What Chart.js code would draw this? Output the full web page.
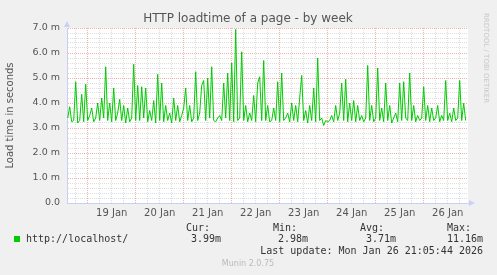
<!DOCTYPE html>
<html>
<head>
<meta charset="utf-8">
<script src="https://cdn.jsdelivr.net/npm/chart.js@4.4.1/dist/chart.umd.min.js"></script>
<style>
  html, body { margin: 0; padding: 0; background: #F0F0F0; }
  #wrap { width: 497px; height: 275px; position: relative; }
</style>
</head>
<body>
<div id="wrap"><canvas id="chart-week"></canvas></div>
<script>
// hourly samples, hours relative to 19 Jan 00:00, starting at -10
var startHour = -10;
var loadTime = [
  3.4, 3.85, 3.25, 3.3, 4.85, 3.2, 3.3, 4.35, 3.25, 4.75,
  3.3, 3.5, 3.8, 3.25, 3.4, 4.0, 3.3, 4.2, 3.4, 5.45,
  3.3, 4.0, 3.25, 4.6, 3.3, 3.6, 4.15, 3.3, 3.9, 3.2,
  3.8, 3.25, 3.4, 5.55, 3.3, 4.7, 3.3, 4.65, 3.4, 4.6,
  3.25, 3.7, 3.3, 4.1, 3.2, 5.15, 3.3, 4.8, 3.25, 3.9,
  3.3, 3.6, 3.2, 4.2, 3.3, 3.9, 3.25, 3.5, 3.8, 4.6,
  3.3, 3.9, 3.25, 3.4, 5.25, 3.3, 3.6, 4.7, 4.9, 3.3,
  5.0, 3.4, 5.45, 3.3, 3.25, 3.4, 3.5, 3.3, 4.8, 3.4,
  5.2, 3.3, 5.6, 3.25, 6.95, 3.3, 3.4, 6.05, 3.3, 3.9,
  3.25, 3.6, 3.3, 4.3, 3.25, 4.8, 5.05, 3.3, 5.7, 3.3,
  3.9, 3.25, 3.3, 3.8, 3.3, 4.85, 3.25, 5.2, 3.3, 3.4,
  3.6, 3.25, 4.0, 3.3, 3.9, 3.25, 4.2, 5.1, 3.3, 3.7,
  3.2, 3.9, 3.3, 4.6, 3.25, 5.8, 3.3, 3.4, 3.1, 3.3,
  3.25, 3.3, 3.5, 3.25, 3.9, 3.3, 3.6, 4.8, 3.3, 4.95,
  3.25, 4.0, 3.3, 4.1, 3.25, 3.9, 3.3, 3.5, 3.25, 3.4,
  5.5, 3.3, 3.9, 3.25, 3.4, 5.4, 3.3, 3.8, 3.25, 4.8,
  3.3, 3.9, 3.2, 3.4, 3.6, 3.25, 4.8, 3.3, 4.85, 3.4,
  3.3, 5.2, 3.3, 3.9, 3.25, 3.5, 3.3, 3.4, 4.65, 3.3,
  3.9, 3.25, 3.8, 3.3, 3.4, 3.9, 3.25, 3.5, 3.3, 4.9,
  3.3, 3.6, 3.25, 3.8, 3.3, 3.4, 4.9, 3.3, 3.99, 3.3
];
var dayLabels = ["19 Jan", "20 Jan", "21 Jan", "22 Jan", "23 Jan", "24 Jan", "25 Jan", "26 Jan"];
var statNames = ["Cur:", "Min:", "Avg:", "Max:"];
var statValues = ["3.99m", "2.98m", "3.71m", "11.16m"];
var seriesName = "http://localhost/";
var lastUpdate = "Last update: Mon Jan 26 21:05:44 2026";

var points = loadTime.map(function (v, i) { return { x: startHour + i, y: v }; });

var minorGrid = "rgba(160,160,160,0.35)";
var majorGrid = "rgba(230,100,100,0.5)";
var axisBlue = "#C8D0F8";

var munin = {
  id: "munin",
  beforeDraw: function (chart) {
    var c = chart.ctx, a = chart.chartArea;
    c.save();
    c.fillStyle = "#F0F0F0";
    c.fillRect(0, 0, chart.width, chart.height);
    c.fillStyle = "#FFFFFF";
    c.fillRect(a.left, a.top, a.right - a.left, a.bottom - a.top);
    c.restore();
  },
  afterDraw: function (chart) {
    var c = chart.ctx, a = chart.chartArea;
    c.save();
    // axis arrows
    c.fillStyle = axisBlue;
    c.beginPath();
    c.moveTo(a.left - 3, a.top - 1); c.lineTo(a.left + 3, a.top - 1); c.lineTo(a.left, a.top - 7);
    c.fill();
    c.beginPath();
    c.moveTo(a.right + 1, a.bottom - 3); c.lineTo(a.right + 1, a.bottom + 3); c.lineTo(a.right + 7, a.bottom);
    c.fill();

    c.textBaseline = "middle";
    c.fillStyle = "#555";
    c.font = '12px "DejaVu Sans"';
    c.textAlign = "center";
    c.fillText("HTTP loadtime of a page - by week", 248, 19);

    c.fillStyle = "#C8C8C8";
    c.font = '7px "DejaVu Sans"';
    c.save();
    c.translate(486, 13);
    c.rotate(Math.PI / 2);
    c.textAlign = "left";
    c.fillText("RRDTOOL / TOBI OETIKER", 0, 0);
    c.restore();

    c.fillStyle = "#00CC00";
    c.fillRect(14, 236, 6, 6);

    c.fillStyle = "#333";
    c.font = '10px "DejaVu Sans Mono"';
    c.textAlign = "left";
    c.fillText(seriesName, 26, 239);
    var nameX = [186, 273, 360, 447];
    var valRight = [221, 308, 396, 483];
    statNames.forEach(function (n, i) { c.fillText(n, nameX[i], 228); });
    c.textAlign = "right";
    statValues.forEach(function (v, i) { c.fillText(v, valRight[i], 239); });
    c.fillText(lastUpdate, 483, 251);

    c.fillStyle = "#BBBBBB";
    c.font = '8px "DejaVu Sans"';
    c.textAlign = "center";
    c.fillText("Munin 2.0.75", 248, 264);
    c.restore();
  }
};

var ctx = document.getElementById("chart-week").getContext("2d");
new Chart(ctx, {
  type: "line",
  data: {
    datasets: [{
      label: seriesName,
      data: points,
      borderColor: "#00CC00",
      borderWidth: 1,
      pointRadius: 0,
      tension: 0,
      fill: false
    }]
  },
  options: {
    responsive: true,
    maintainAspectRatio: false,
    animation: false,
    layout: { padding: { left: 0, top: 28, right: 29, bottom: 52 } },
    plugins: {
      legend: { display: false },
      title: { display: false },
      tooltip: { enabled: false }
    },
    scales: {
      x: {
        type: "linear",
        min: -10.35,
        max: 190.15,
        afterBuildTicks: function (scale) {
          var t = [];
          for (var h = -6; h <= 186; h += 6) t.push({ value: h });
          scale.ticks = t;
        },
        afterFit: function (scale) { scale.height = 20; },
        grid: {
          drawTicks: false,
          color: function (c) { return c.tick && c.tick.value % 24 === 0 ? majorGrid : minorGrid; }
        },
        border: { color: axisBlue, width: 1, dash: [1, 1] },
        ticks: {
          padding: 4,
          maxRotation: 0,
          autoSkip: false,
          color: "#555",
          font: { family: "DejaVu Sans", size: 10 },
          callback: function (v) {
            var m = ((v % 24) + 24) % 24;
            if (m !== 12) return "";
            return dayLabels[Math.round((v - 12) / 24)] || "";
          }
        }
      },
      y: {
        min: 0,
        max: 7,
        afterBuildTicks: function (scale) {
          var t = [];
          for (var i = 0; i <= 35; i++) t.push({ value: i / 5 });
          scale.ticks = t;
        },
        afterFit: function (scale) { scale.width = 67; },
        grid: {
          drawTicks: false,
          color: function (c) {
            var v = c.tick ? c.tick.value : 0;
            return Math.abs(v - Math.round(v)) < 1e-6 ? majorGrid : minorGrid;
          }
        },
        border: { color: axisBlue, width: 1, dash: [1, 1] },
        title: {
          display: true,
          text: "Load time in seconds",
          color: "#555",
          font: { family: "DejaVu Sans", size: 10 },
          padding: { top: 4, bottom: 0 }
        },
        ticks: {
          padding: 7,
          autoSkip: false,
          color: "#555",
          font: { family: "DejaVu Sans", size: 9.5 },
          callback: function (v) {
            if (Math.abs(v - Math.round(v)) > 1e-6) return "";
            if (Math.round(v) === 0) return "0.0";
            return Math.round(v).toFixed(1) + " m";
          }
        }
      }
    }
  },
  plugins: [munin]
});
</script>
</body>
</html>
